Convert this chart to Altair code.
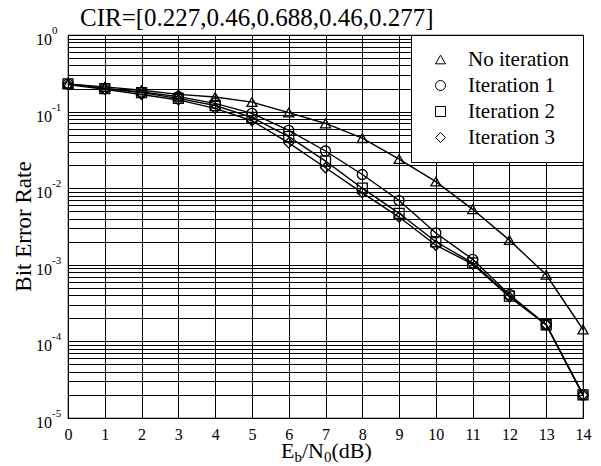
import altair as alt
import pandas as pd

# ---------------- data ----------------
snr = list(range(15))
no_iter = [0.23, 0.21, 0.19, 0.168, 0.155, 0.133, 0.097, 0.070, 0.045, 0.024,
           0.0122, 0.0053, 0.0021, 0.00074, 0.000143]
iter1 = [0.23, 0.20, 0.18, 0.157, 0.128, 0.095, 0.057, 0.0306, 0.0151, 0.0069,
         0.0026, 0.00118, 0.00041, 0.000165, 2.0e-5]
iter2 = [0.23, 0.20, 0.177, 0.149, 0.120, 0.084, 0.047, 0.0226, 0.0100, 0.0047,
         0.0020, 0.00106, 0.00039, 0.000165, 2.0e-5]
iter3 = [0.225, 0.195, 0.167, 0.142, 0.110, 0.076, 0.039, 0.0185, 0.0087, 0.0042,
         0.0018, 0.00102, 0.00038, 0.000165, 2.0e-5]
series_names = ["No iteration", "Iteration 1", "Iteration 2", "Iteration 3"]
series_shapes = ["triangle-up", "circle", "square", "diamond"]
x_ticks = list(range(15))
decades = [1, 0.1, 0.01, 0.001, 0.0001, 0.00001]
decade_exps = ["0", "-1", "-2", "-3", "-4", "-5"]
title_text = "CIR=[0.227,0.46,0.688,0.46,0.277]"
y_title = "Bit Error Rate"

# ---------------- tables ----------------
rows = []
for name, vals in zip(series_names, [no_iter, iter1, iter2, iter3]):
    for s, v in zip(snr, vals):
        rows.append({"snr": s, "ber": v, "series": name})
df = pd.DataFrame(rows)

grid_vals = [m * 10.0 ** k for k in range(-5, 0) for m in range(1, 10)] + [1.0]
dec_df = pd.DataFrame({"ber": decades, "base": ["10"] * len(decades), "exp": decade_exps})

W, H = 515, 383
FONT = "Liberation Serif, Tinos, Times New Roman, Times, DejaVu Serif, serif"

x_enc = alt.X(
    "snr:Q",
    scale=alt.Scale(domain=[0, 14], nice=False, zero=False),
    axis=alt.Axis(values=x_ticks, grid=True, gridColor="black", gridOpacity=1,
                  gridWidth=1, ticks=False, domain=False, labelFont=FONT,
                  labelFontSize=16, labelColor="black", labelPadding=8,
                  labelFlush=False, title=None),
)
y_enc = alt.Y(
    "ber:Q",
    scale=alt.Scale(type="log", domain=[1e-5, 1], nice=False),
    axis=alt.Axis(values=grid_vals, grid=True, gridColor="black", gridOpacity=1,
                  gridWidth=1, labels=False, ticks=False, domain=False, title=None),
)

lines = alt.Chart(df).mark_line(color="black", strokeWidth=1.4).encode(
    x=x_enc, y=y_enc, detail="series:N"
)

points = alt.Chart(df).mark_point(
    filled=False, color="black", size=100, strokeWidth=1.3, opacity=1
).encode(
    x=x_enc,
    y=y_enc,
    shape=alt.Shape(
        "series:N",
        scale=alt.Scale(domain=series_names, range=series_shapes),
        legend=alt.Legend(
            title=None, orient="top-right", offset=0, fillColor="white",
            strokeColor="black", padding=14, symbolOffset=5, labelOffset=17,
            rowPadding=4, labelFont=FONT, labelFontSize=21, labelColor="black",
            symbolSize=100, symbolStrokeColor="black", symbolStrokeWidth=1,
        ),
    ),
)

# y tick labels 10^k drawn as base + superscript exponent through the y scale
ylab_base = alt.Chart(dec_df).mark_text(
    align="right", baseline="middle", dy=5, font=FONT, fontSize=16, color="black"
).encode(y=y_enc, x=alt.value(-16), text="base:N")
ylab_exp = alt.Chart(dec_df).mark_text(
    align="left", baseline="middle", dy=-4, font=FONT, fontSize=11, color="black"
).encode(y=y_enc, x=alt.value(-16), text="exp:N")

# y axis title
ytitle_df = pd.DataFrame({"t": [y_title]})
ytitle = alt.Chart(ytitle_df).mark_text(
    angle=270, align="center", baseline="middle", font=FONT, fontSize=23, color="black"
).encode(x=alt.value(-44), y=alt.value(H / 2), text="t:N")

# chart title
title_df = pd.DataFrame({"t": [title_text]})
ctitle = alt.Chart(title_df).mark_text(
    align="left", baseline="alphabetic", font=FONT, fontSize=25, color="black"
).encode(x=alt.value(12), y=alt.value(-9), text="t:N")

# x axis title E_b/N_0(dB) with subscripts
BIG, SMALL = 22, 15
parts = [("E", BIG, 0.611), ("b", SMALL, 0.5), ("/N", BIG, 1.0), ("0", SMALL, 0.5), ("(dB)", BIG, 1.833)]
x0 = 213
xt_layers = []
for txt, fs, em in parts:
    d = pd.DataFrame({"t": [txt]})
    dyv = 4 if fs == SMALL else 0
    xt_layers.append(
        alt.Chart(d).mark_text(align="left", baseline="alphabetic", font=FONT,
                               fontSize=fs, color="black", dy=dyv)
        .encode(x=alt.value(x0), y=alt.value(H + 40), text="t:N")
    )
    x0 += em * fs

chart = alt.layer(lines, points, ylab_base, ylab_exp, ytitle, ctitle, *xt_layers).properties(
    width=W,
    height=H,
    autosize=alt.AutoSizeParams(type="none"),
    padding={"left": 60, "top": 27, "right": 10, "bottom": 48},
).configure(
    background="white", font=FONT
).configure_view(
    stroke="black", strokeWidth=1.2
).configure_legend(
    labelFont=FONT, labelFontSize=21, labelColor="black"
).configure_axis(
    labelFont=FONT
).configure_text(font=FONT)

chart.save("out.html", embed_options={"renderer": "svg", "actions": False})
